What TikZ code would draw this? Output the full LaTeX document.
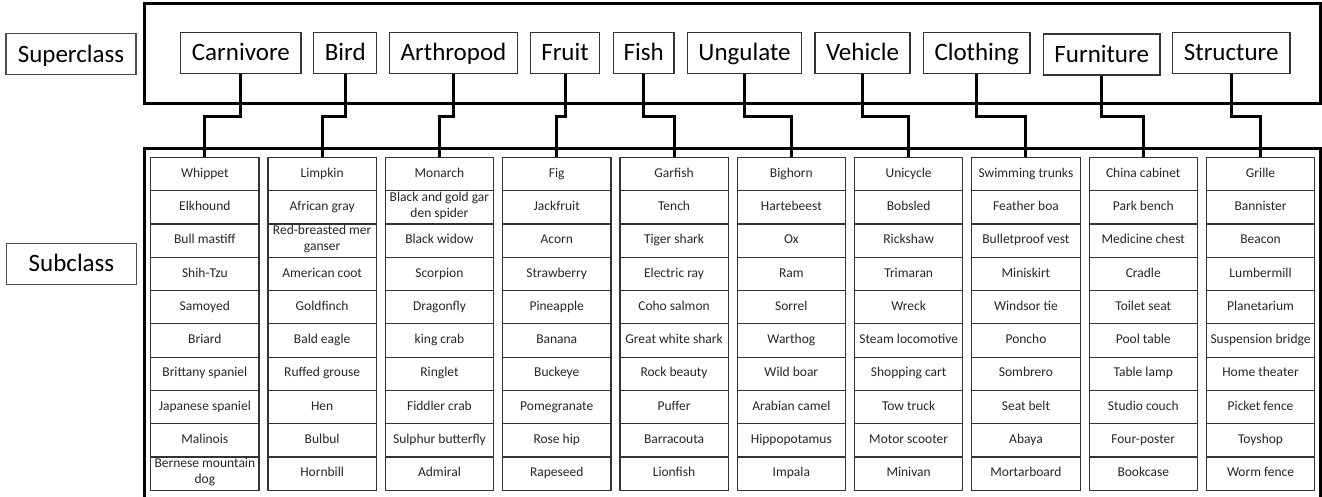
\documentclass[tikz,border=0pt]{standalone}
\usepackage{fontspec}
\setmainfont{Carlito}
\tikzset{
  classbox/.style={draw=black!70, line width=1.3pt, minimum width=130pt, minimum height=41pt, inner sep=0pt, font=\fontsize{25}{28}\selectfont, text height=16pt, text depth=0pt},
  catbox/.style={draw=black!80, line width=1.3pt, minimum height=41pt, inner sep=0pt, font=\fontsize{25}{28}\selectfont, text height=16pt, text depth=0pt},
  cell/.style={draw=black!80, line width=1.2pt, minimum width=108.3pt, minimum height=33.3pt, inner xsep=1pt, inner ysep=0.5pt, align=center, text=black!85, font=\fontsize{13.5}{16}\selectfont, execute at begin node=\strut, execute at end node=\strut},
  bigbox/.style={line width=3pt, line join=miter},
  link/.style={line width=3pt}
}
\begin{document}
\begin{tikzpicture}[x=1pt,y=-1pt]
\useasboundingbox (0,0) rectangle (1322,496);
% left labels
\node[classbox] (superclass) at (71,54) {Superclass};
\node[classbox] (subclass) at (71.5,263.7) {Subclass};

% frames
\draw[bigbox] (144,3) rectangle (1320,103);
\draw[bigbox] (144,510) |- (1320,148) -- (1320,510);

% superclass boxes
\foreach \txt/\x/\y/\w [count=\k] in {Carnivore/240.9/52.8/120.3, Bird/345.3/52.8/63, Arthropod/453.5/52.8/128.4, Fruit/565/52.8/68.6, Fish/643.7/52.8/60.7, Ungulate/744.5/52.8/114.4, Vehicle/862.5/52.8/95, Clothing/976.7/52.8/106.7, Furniture/1101.7/54.5/116.7, Structure/1231.2/52.8/117.7}
  \node[catbox, minimum width=\w pt] (cat\k) at (\x,\y) {\txt};

% subclass columns
\foreach \col [count=\k] in {
  {Whippet,Elkhound,Bull mastiff,Shih-Tzu,Samoyed,Briard,Brittany spaniel,Japanese spaniel,Malinois,Bernese mountain\\dog},
  {Limpkin,African gray,Red-breasted mer\\ganser,American coot,Goldfinch,Bald eagle,Ruffed grouse,Hen,Bulbul,Hornbill},
  {Monarch,Black and gold gar\\den spider,Black widow,Scorpion,Dragonfly,king crab,Ringlet,Fiddler crab,Sulphur butterfly,Admiral},
  {Fig,Jackfruit,Acorn,Strawberry,Pineapple,Banana,Buckeye,Pomegranate,Rose hip,Rapeseed},
  {Garfish,Tench,Tiger shark,Electric ray,Coho salmon,Great white shark,Rock beauty,Puffer,Barracouta,Lionfish},
  {Bighorn,Hartebeest,Ox,Ram,Sorrel,Warthog,Wild boar,Arabian camel,Hippopotamus,Impala},
  {Unicycle,Bobsled,Rickshaw,Trimaran,Wreck,Steam locomotive,Shopping cart,Tow truck,Motor scooter,Minivan},
  {Swimming trunks,Feather boa,Bulletproof vest,Miniskirt,Windsor tie,Poncho,Sombrero,Seat belt,Abaya,Mortarboard},
  {China cabinet,Park bench,Medicine chest,Cradle,Toilet seat,Pool table,Table lamp,Studio couch,Four-poster,Bookcase},
  {Grille,Bannister,Beacon,Lumbermill,Planetarium,Suspension bridge,Home theater,Picket fence,Toyshop,Worm fence}}
  \foreach \item [count=\j] in \col
    \node[cell, anchor=north] (cell-\k-\j) at ({204.85+117.3*(\k-1)},{156.7+33.3*(\j-1)}) {\item};

% connectors
\foreach \k in {1,...,10}
  \draw[link] (cat\k.south) -- (cat\k.south |- 0,116) -| (cell-\k-1.north);
\end{tikzpicture}
\end{document}
